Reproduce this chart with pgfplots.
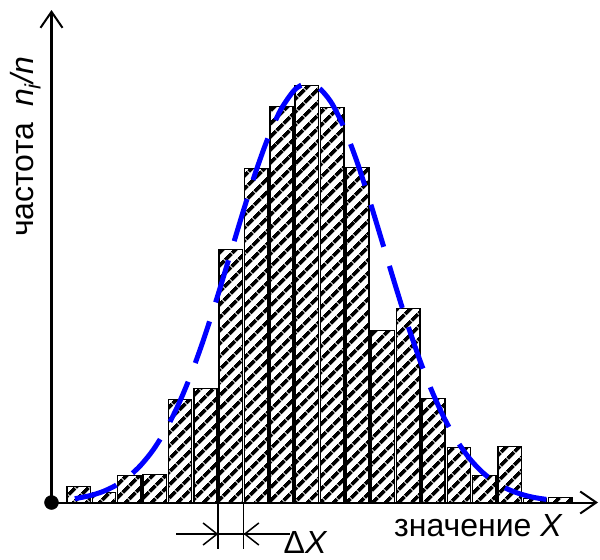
\documentclass[border=0pt]{standalone}
\usepackage{fontspec}
\setmainfont{Liberation Sans}
\usepackage{pgfplots}
\pgfplotsset{compat=1.18}
\usetikzlibrary{patterns.meta,arrows.meta}
\begin{document}
\begin{tikzpicture}
\begin{axis}[
  at={(0,0)}, anchor=south west,
  x=25.35bp, y=1bp,
  xmin=-0.572, xmax=20.986,
  ymin=0, ymax=492.5,
  enlargelimits=false,
  axis lines=left,
  axis line style={line width=2bp},
  x axis line style={-{Straight Barb[length=16bp,width=22bp,line width=2bp]}},
  y axis line style={-{Straight Barb[length=16bp,width=22bp,line width=2bp]}},
  xtick=\empty, ytick=\empty,
  clip=false,
]
\addplot[ybar, bar width=0.92, draw=black, line width=1.5bp,
  pattern={Lines[angle=45,distance=10bp,line width=4.2bp]}, pattern color=black]
  coordinates {
  (0.5,16) (1.5,10) (2.5,27) (3.5,28) (4.5,103) (5.5,114) (6.5,253) (7.5,334)
  (8.5,396) (9.5,417) (10.5,395) (11.5,335) (12.5,172) (13.5,194) (14.5,104)
  (15.5,55) (16.5,27) (17.5,56) (18.5,4) (19.5,5)
  };
\addplot[blue, line width=5bp, dash pattern=on 44bp off 20bp, smooth, no marks]
  coordinates {
  (0.35,3.8)(0.95,6.9)(1.45,10.9)(1.95,16.9)(2.45,25.5)(2.95,37.3)(3.45,53.0)
  (3.95,73.4)(4.45,98.8)(4.95,129.3)(5.45,164.7)(5.95,204.0)(6.45,245.7)
  (6.95,287.8)(7.45,328.0)(7.95,363.4)(8.45,391.8)(8.95,410.7)(9.25,416.9)
  (9.55,419)(9.95,415.3)(10.45,400.6)(10.95,375.8)(11.45,342.9)(11.95,304.2)
  (12.45,262.6)(12.95,220.5)(13.45,180.0)(13.95,142.9)(14.45,110.4)(14.95,82.9)
  (15.45,60.6)(15.95,43.0)(16.45,29.7)(16.95,20.0)(17.45,13.1)(17.95,8.3)
  (18.45,5.1)(18.95,3.1)
  };
\addplot[only marks, mark=*, mark size=7bp, black] coordinates {(-0.572,0)};
% Delta X dimension
\draw[line width=1.5bp] (axis cs:6,0) -- (axis cs:6,-46.5);
\draw[line width=1.5bp] (axis cs:7,0) -- (axis cs:7,-46.5);
\end{axis}
\draw[line width=1.5bp] (124.5bp,-31.5bp) -- (238.5bp,-31.5bp);
\draw[line width=1.5bp, -{Straight Barb[length=14bp,width=22bp,line width=1.5bp]}] (124.5bp,-31.5bp) -- (166.8bp,-31.5bp);
\draw[line width=1.5bp, -{Straight Barb[length=14bp,width=22bp,line width=1.5bp]}] (238.5bp,-31.5bp) -- (192.1bp,-31.5bp);
\node[anchor=base west, inner sep=0pt, font=\fontsize{32bp}{38bp}\selectfont] at (232bp,-51bp) {Δ\textit{X}};
\node[anchor=base west, inner sep=0pt, font=\fontsize{32bp}{38bp}\selectfont] at (342.5bp,-33.5bp) {значение \textit{X}};
\node[anchor=base west, inner sep=0pt, rotate=90, font=\fontsize{32bp}{38bp}\selectfont] at (-18.5bp,265.5bp) {частота\hspace{0.5em}\textit{n}\textsubscript{\textit{i}}\textit{/n}};
\pgfresetboundingbox
\path[use as bounding box] (-51.5bp,-57.5bp) rectangle (548.5bp,502.5bp);
\end{tikzpicture}
\end{document}
